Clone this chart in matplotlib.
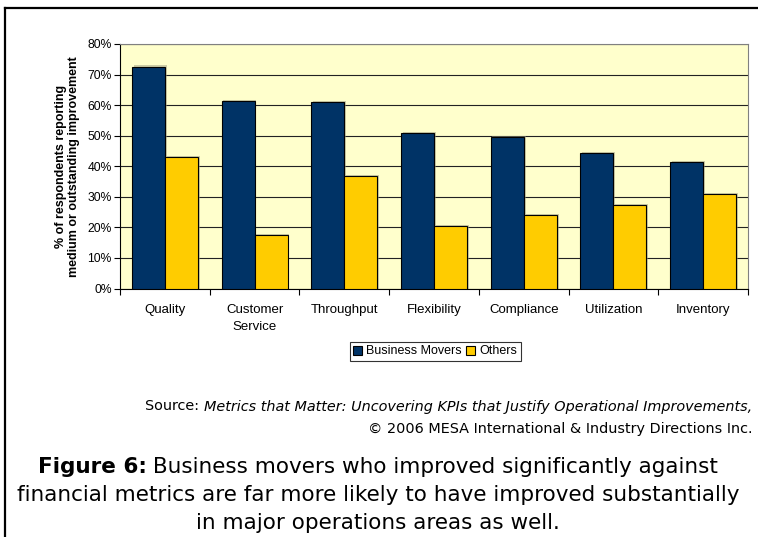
import matplotlib.pyplot as plt
import matplotlib.lines as mlines
import numpy as np

plt.rcParams['font.family'] = ['Liberation Sans', 'DejaVu Sans']

categories = ['Quality', 'Customer\nService', 'Throughput', 'Flexibility',
              'Compliance', 'Utilization', 'Inventory']
business_movers = [72.6, 61.2, 60.9, 50.8, 49.6, 44.3, 41.3]
others = [42.9, 17.4, 36.7, 20.5, 24.0, 27.4, 30.8]
series_names = ['Business Movers', 'Others']
colors = ['#003366', '#FFCC00']

W, H = 758, 537
fig = plt.figure(figsize=(W / 100, H / 100), dpi=100)
fig.patch.set_facecolor('white')

ax = fig.add_axes([120 / W, 1 - 288.5 / H, 628 / W, 244.5 / H])
ax.set_facecolor('#FFFFCC')

x = np.arange(len(categories))
width = 0.368

# soft grey shadow behind the bars
for off, vals in [(-width / 2, business_movers), (width / 2, others)]:
    ax.bar(x + off + 0.02, np.array(vals) + 0.4, width, color='#9a9a80',
           alpha=0.5, linewidth=0, zorder=2)

b1 = ax.bar(x - width / 2, business_movers, width, color=colors[0],
            edgecolor='black', linewidth=0.8, zorder=3, label=series_names[0])
b2 = ax.bar(x + width / 2, others, width, color=colors[1],
            edgecolor='black', linewidth=0.8, zorder=3, label=series_names[1])

ax.set_xlim(-0.5, len(categories) - 0.5)
ax.set_ylim(0, 80)
ax.set_yticks(np.arange(0, 81, 10))
ax.set_yticklabels([f'{v}%' for v in range(0, 81, 10)], fontsize=8.7)
ax.yaxis.grid(True, color='#222222', linewidth=0.8, zorder=1)
ax.set_axisbelow(True)

ax.set_xticks(x)
ax.set_xticklabels(categories, fontsize=9.5)
for lbl in ax.get_xticklabels():
    lbl.set_linespacing(1.55)
ax.tick_params(axis='x', length=0, pad=11)
ax.set_xticks(np.arange(-0.5, len(categories), 1), minor=True)
ax.tick_params(axis='x', which='minor', length=4, width=0.8, direction='out')
ax.tick_params(axis='y', length=4, width=0.8, direction='out', pad=2)

for s in ['left', 'bottom']:
    ax.spines[s].set_color('black')
    ax.spines[s].set_linewidth(0.8)
for s in ['top', 'right']:
    ax.spines[s].set_color('#808080')
    ax.spines[s].set_linewidth(0.8)

ax.set_ylabel('% of respondents reporting\nmedium or outstanding improvement',
              fontsize=9, fontweight='bold', labelpad=5, linespacing=1.2)

leg = ax.legend(handles=[b1, b2], loc='center', ncol=2,
                bbox_to_anchor=(435 / W, 1 - 351.5 / H),
                bbox_transform=fig.transFigure, fontsize=9,
                frameon=True, fancybox=False, handlelength=0.7,
                handleheight=0.7, handletextpad=0.3, columnspacing=0.4,
                borderpad=0.3, borderaxespad=0)
leg.get_frame().set_edgecolor('black')
leg.get_frame().set_linewidth(0.8)

renderer = fig.canvas.get_renderer()

# source note, right aligned
note_font = ['DejaVu Sans']
src_size = 10.4
src_y = 1 - 410.5 / H
src = fig.text(752 / W, src_y,
               'Metrics that Matter: Uncovering KPIs that Justify Operational Improvements,',
               ha='right', va='baseline', fontsize=src_size, style='italic',
               family=note_font)
src_left = src.get_window_extent(renderer).x0
fig.text(src_left / W, src_y, 'Source: ', ha='right', va='baseline',
         fontsize=src_size, family=note_font)
fig.text(752 / W, 1 - 432.5 / H,
         '\u00a9 2006 MESA International & Industry Directions Inc.',
         ha='right', va='baseline', fontsize=src_size, family=note_font)

# caption with bold lead-in
cap_size = 15.5
cx = 378
bold = fig.text(0, 0, 'Figure 6:', fontsize=cap_size, fontweight='bold',
                family=note_font)
rest = fig.text(0, 0, ' Business movers who improved significantly against',
                fontsize=cap_size, family=note_font)
wb = bold.get_window_extent(renderer).width
wr = rest.get_window_extent(renderer).width
x0 = cx - (wb + wr) / 2
y1 = 1 - 473 / H
bold.set_position((x0 / W, y1))
rest.set_position(((x0 + wb) / W, y1))
fig.text(cx / W, 1 - 501 / H,
         'financial metrics are far more likely to have improved substantially',
         ha='center', fontsize=cap_size, family=note_font)
fig.text(cx / W, 1 - 529 / H, 'in major operations areas as well.',
         ha='center', fontsize=cap_size, family=note_font)

# page frame
fig.add_artist(mlines.Line2D([5 / W, 5 / W], [0, 1 - 8 / H],
                             transform=fig.transFigure, color='black', lw=1.6))
fig.add_artist(mlines.Line2D([5 / W, 1], [1 - 8 / H, 1 - 8 / H],
                             transform=fig.transFigure, color='black', lw=1.6))

fig.savefig('out.png', dpi=100, facecolor='white')
